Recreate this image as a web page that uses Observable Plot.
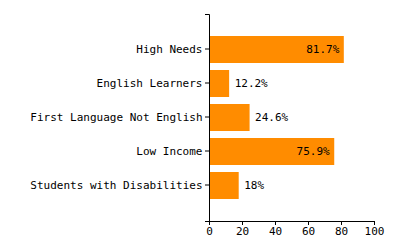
<!DOCTYPE html>
<html>
<head>
<meta charset="utf-8">
<script src="https://cdn.jsdelivr.net/npm/d3@7"></script>
<script src="https://cdn.jsdelivr.net/npm/@observablehq/plot@0.6"></script>
<style>
  html, body { margin: 0; padding: 0; background: #fff; }
  svg { display: block; }
</style>
</head>
<body>
<div id="chart"></div>
<script>
const categories = ["High Needs", "English Learners", "First Language Not English", "Low Income", "Students with Disabilities"];
const values = [81.7, 12.2, 24.6, 75.9, 18];
const valueLabels = ["81.7%", "12.2%", "24.6%", "75.9%", "18%"];
const xTicks = [0, 20, 40, 60, 80, 100];

const data = categories.map((c, i) => ({category: c, value: values[i], label: valueLabels[i]}));
const inside = data.filter(d => d.value > 50);
const outside = data.filter(d => d.value <= 50);

const font = "'DejaVu Sans Mono', monospace";

// d3-style domain paths with outer ticks
function domainPaths(index, scales, values, dim) {
  const g = d3.create("svg:g").attr("fill", "none").attr("stroke", "#000");
  const l = dim.marginLeft, t = dim.marginTop, b = dim.height - dim.marginBottom, r = dim.width - dim.marginRight;
  g.append("path").attr("d", `M${l - 4},${t + 0.5}H${l + 0.5}V${b + 0.5}H${l - 4}`);
  g.append("path").attr("d", `M${l + 0.5},${b + 4}V${b + 0.5}H${r + 0.5}V${b + 4}`);
  return g.node();
}

const plot = Plot.plot({
  width: 400,
  height: 250,
  marginLeft: 209,
  marginRight: 26,
  marginTop: 14,
  marginBottom: 29,
  style: {fontFamily: font, fontSize: "11px", color: "#000", background: "#fff"},
  x: {domain: [0, 100], ticks: xTicks},
  y: {domain: categories, paddingInner: 0.2, paddingOuter: 0.6, align: 0.5},
  marks: [
    Plot.barX(data, {x: "value", y: "category", fill: "#FF8C00", insetLeft: 1}),
    Plot.text(inside, {x: "value", y: "category", text: "label", textAnchor: "end", dx: -5, dy: -1, fill: "#000", fontSize: 11}),
    Plot.text(outside, {x: "value", y: "category", text: "label", textAnchor: "start", dx: 5, dy: -1, fill: "#000", fontSize: 11}),
    Plot.axisY({tickSize: 4, tickPadding: 3, label: null, fontSize: 11, dy: -1}),
    Plot.axisX({ticks: xTicks, tickSize: 4, tickPadding: 2, label: null, fontSize: 11}),
    domainPaths
  ]
});
document.getElementById("chart").appendChild(plot);
</script>
</body>
</html>
